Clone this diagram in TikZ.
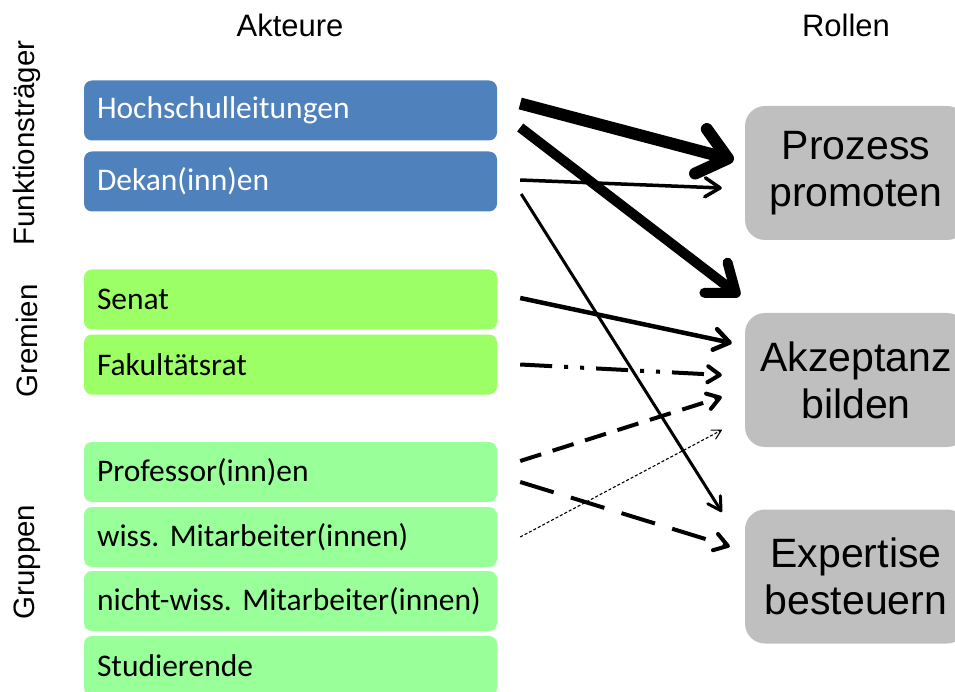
\documentclass[tikz,border=0pt]{standalone}
\usepackage{fontspec}
\setmainfont{Liberation Sans}
\newfontfamily\boxfont{Carlito}
\usetikzlibrary{arrows.meta,calc}

\definecolor{leadblue}{HTML}{4F81BD}
\definecolor{boardgreen}{HTML}{9CFF66}
\definecolor{groupgreen}{HTML}{99FF99}
\definecolor{rolegray}{HTML}{BFBFBF}

\begin{document}
\frenchspacing
\begin{tikzpicture}[x=1pt,y=-1pt,
  actor/.style={rounded corners=8pt, minimum height=60pt, text width=387pt,
    inner xsep=13pt, inner ysep=0pt, align=left,
    font=\boxfont\fontsize{31.5}{38}\selectfont},
  lead/.style={actor, fill=leadblue, text=white},
  board/.style={actor, fill=boardgreen},
  group/.style={actor, fill=groupgreen},
  role/.style={fill=rolegray, rounded corners=20pt, minimum width=222pt,
    minimum height=134pt, align=center, font=\fontsize{41}{47}\selectfont},
  heading/.style={font=\fontsize{31}{37}\selectfont},
  side/.style={font=\fontsize{29.5}{35}\selectfont, rotate=90},
  barb/.style n args={2}{arrows={-Straight Barb[length=#1, width=#2, round]}},
  dashdotdot/.style={dash pattern=on 32pt off 12pt on 4pt off 12pt on 4pt off 12pt},
]
\useasboundingbox (0,0) rectangle (955,692);
\clip (0,0) rectangle (955,692);

% column headings
\node[heading] (hact) at (290,25) {Akteure};
\node[heading] (hrol) at (846,25) {Rollen};

% group labels on the left
\node[side] (lfun) at (27,143) {Funktionsträger};
\node[side] (lgre) at (27,341) {Gremien};
\node[side] (lgru) at (27,562) {Gruppen};

% actors
\node[lead]  (hsl)   at (290.5,110.5) {Hochschulleitungen};
\node[lead]  (dek)   at (290.5,181.5) {Dekan(inn)en};
\node[board] (sen)   at (290.5,299.5) {Senat};
\node[board] (fak)   at (290.5,364.5) {Fakultätsrat};
\node[group] (prof)  at (290.5,472)   {Professor(inn)en};
\node[group] (wiss)  at (290.5,537)   {wiss. Mitarbeiter(innen)};
\node[group] (nwiss) at (290.5,601)   {\mbox{nicht-wiss. Mitarbeiter(innen)}};
\node[group] (stud)  at (290.5,666)   {Studierende};

% roles
\node[role] (pro) at (856,173)   {Prozess\\promoten};
\node[role] (akz) at (856,380)   {Akzeptanz\\bilden};
\node[role] (exp) at (856,576.5) {Expertise\\besteuern};

% relations
\draw[line width=12pt, barb={28pt}{46pt}]
  ($(hsl.east)+(23,-7)$) -- ($(pro.west)+(-11,-13)$);
\draw[line width=10pt, barb={25pt}{38pt}]
  ($(hsl.east)+(23,17)$) -- ($(akz.west)+(-5,-84)$);
\draw[line width=3.5pt, barb={15pt}{19pt}]
  ($(dek.east)+(23,-1.5)$) -- ($(pro.west)+(-23,15)$);
\draw[line width=3pt, barb={13pt}{15pt}]
  ($(dek.east)+(24,12.5)$) -- ($(exp.west)+(-23,-64.5)$);
\draw[line width=4.5pt, barb={15pt}{21pt}]
  ($(sen.east)+(23,-1.5)$) -- ($(akz.west)+(-13,-37)$);
\draw[line width=4pt, dashdotdot, barb={12pt}{16pt}]
  ($(fak.east)+(23,0)$) -- ($(akz.west)+(-23,-5)$);
\draw[line width=4pt, dash pattern=on 22pt off 12pt, barb={12pt}{16pt}]
  ($(prof.east)+(23,-11)$) -- ($(akz.west)+(-23,17)$);
\draw[line width=4pt, dash pattern=on 35pt off 18pt, barb={13pt}{17pt}]
  ($(prof.east)+(23,10)$) -- ($(exp.west)+(-15,-30)$);
\draw[line width=1.1pt, dash pattern=on 3pt off 2pt, barb={9pt}{10pt}]
  ($(wiss.east)+(23,0)$) -- ($(akz.west)+(-23,50)$);
\end{tikzpicture}
\end{document}
